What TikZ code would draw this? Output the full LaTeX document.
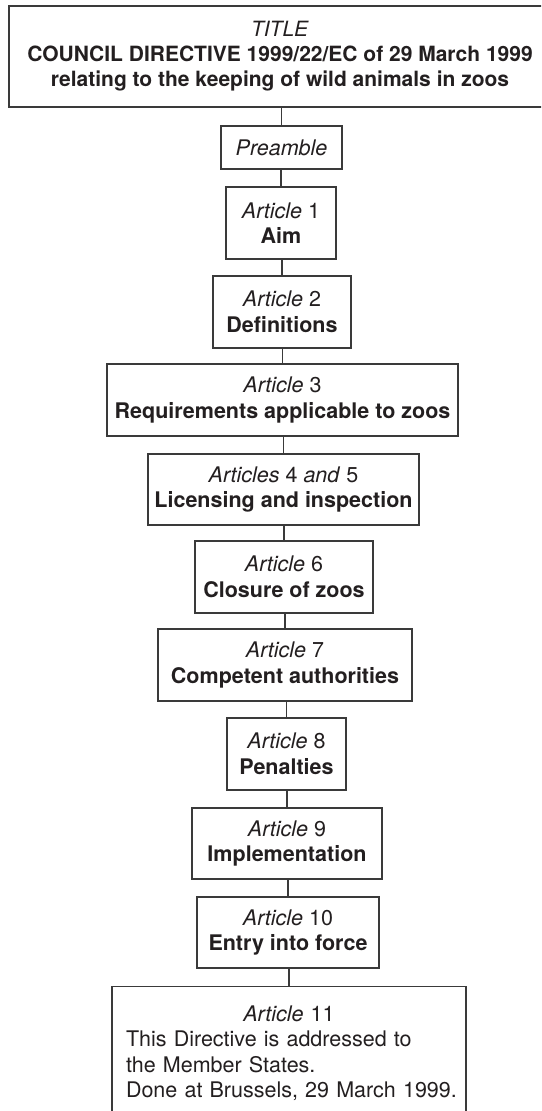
\documentclass[tikz,border=0pt]{standalone}
\usepackage{fontspec}
\setmainfont{TeX Gyre Heros}
\definecolor{ink}{HTML}{231F20}
\definecolor{rule}{HTML}{3A3A3A}
\begin{document}
\begin{tikzpicture}[x=1pt,y=-1pt,
  box/.style={draw=rule,line width=1.3pt,rectangle,inner sep=0pt,align=center,text=ink,
    font=\fontsize{21.5}{25.5}\selectfont},
  conn/.style={draw=rule,line width=1.3pt}]
\path[use as bounding box,clip] (0,0) rectangle (541,1111);
\fill[white] (0,0) rectangle (541,1111);
\node[box,minimum width=542pt,minimum height=101pt,font=\fontsize{21}{25}\selectfont] (title) at (280,56.5)
  {\textit{TITLE}\\\textbf{COUNCIL DIRECTIVE 1999/22/EC of 29 March 1999}\\\textbf{relating to the keeping of wild animals in zoos}};
\node[box,minimum width=121pt,minimum height=43pt] (pre) at (281.5,147.5) {\textit{Preamble}};
\node[box,minimum width=110pt,minimum height=72pt] (a1) at (281,223) {\textit{Article} 1\\\textbf{Aim}};
\node[box,minimum width=138pt,minimum height=72pt] (a2) at (282,312) {\textit{Article} 2\\\textbf{Definitions}};
\node[box,minimum width=351pt,minimum height=72pt] (a3) at (282.5,400) {\textit{Article} 3\\\textbf{Requirements applicable to zoos}};
\node[box,minimum width=271pt,minimum height=71pt] (a45) at (283.5,489.5) {\textit{Articles} 4 \textit{and} 5\\\textbf{Licensing and inspection}};
\node[box,minimum width=178pt,minimum height=72pt] (a6) at (284,577) {\textit{Article} 6\\\textbf{Closure of zoos}};
\node[box,minimum width=254pt,minimum height=72pt] (a7) at (285,665) {\textit{Article} 7\\\textbf{Competent authorities}};
\node[box,minimum width=119pt,minimum height=72pt] (a8) at (286.5,754) {\textit{Article} 8\\\textbf{Penalties}};
\node[box,minimum width=190pt,minimum height=71pt] (a9) at (287,843.5) {\textit{Article} 9\\\textbf{Implementation}};
\node[box,minimum width=182pt,minimum height=71pt] (a10) at (288,932.5) {\textit{Article} 10\\\textbf{Entry into force}};
\node[box,anchor=north,minimum width=354pt,text width=326pt,inner xsep=14pt,inner ysep=19pt,align=left] (a11) at (289,986)
  {\makebox[\linewidth]{\textit{Article} 11}\\\mbox{This Directive is addressed to}\\\mbox{the Member States.}\\\mbox{Done at Brussels, 29 March 1999.}\\[30pt]};
\foreach \u/\v in {title/pre,pre/a1,a1/a2,a2/a3,a3/a45,a45/a6,a6/a7,a7/a8,a8/a9,a9/a10,a10/a11}
  \draw[conn] (\v.north |- \u.south) -- (\v.north);
\end{tikzpicture}
\end{document}
